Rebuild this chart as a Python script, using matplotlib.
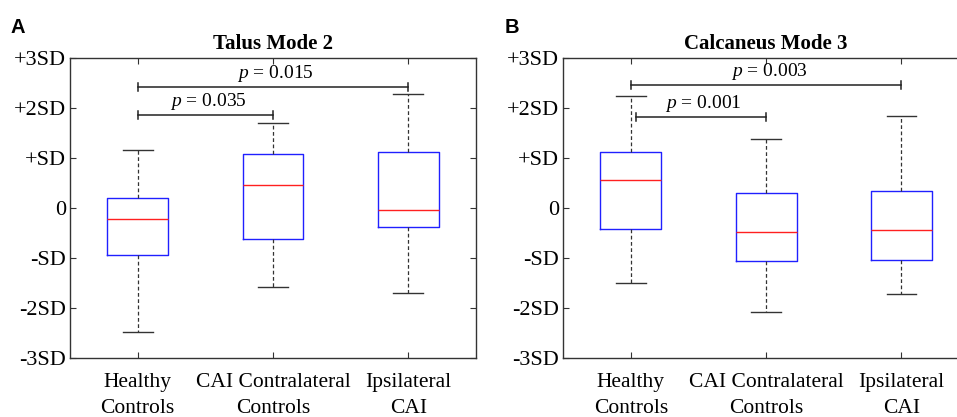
import numpy as np
import matplotlib
matplotlib.use("Agg")
import matplotlib.pyplot as plt

plt.rcParams['font.family'] = 'serif'
plt.rcParams['font.serif'] = ['Liberation Serif', 'DejaVu Serif']
plt.rcParams['mathtext.fontset'] = 'custom'
plt.rcParams['mathtext.it'] = 'Liberation Serif:italic'
plt.rcParams['mathtext.rm'] = 'Liberation Serif'

groups = ['Healthy\nControls', 'CAI Contralateral\nControls', 'Ipsilateral\nCAI']
ytick_vals = [-3, -2, -1, 0, 1, 2, 3]
ytick_labels = ['-3SD', '-2SD', '-SD', '0', '+SD', '+2SD', '+3SD']

# panel A: Talus Mode 2
talus_whislo = [-2.49, -1.59, -1.71]
talus_q1 = [-0.94, -0.63, -0.39]
talus_med = [-0.23, 0.45, -0.04]
talus_q3 = [0.20, 1.08, 1.12]
talus_whishi = [1.15, 1.70, 2.27]
talus_pairs = [(1, 2), (1, 3)]
talus_pvals = ['0.035', '0.015']
talus_bar_y = [1.85, 2.42]

# panel B: Calcaneus Mode 3
calc_whislo = [-1.50, -2.09, -1.73]
calc_q1 = [-0.42, -1.07, -1.05]
calc_med = [0.55, -0.49, -0.45]
calc_q3 = [1.11, 0.30, 0.33]
calc_whishi = [2.24, 1.38, 1.83]
calc_pairs = [(1.035, 2), (1, 3)]
calc_pvals = ['0.001', '0.003']
calc_bar_y = [1.82, 2.45]


def draw_panel(ax, title, whislo, q1, med, q3, whishi, pairs, pvals, bar_y):
    stats = []
    for i in range(len(med)):
        stats.append(dict(whislo=whislo[i], q1=q1[i], med=med[i],
                          q3=q3[i], whishi=whishi[i], fliers=[]))
    ax.bxp(stats, positions=[1, 2, 3], widths=0.45, showfliers=False,
           boxprops=dict(color='#2020ff', linewidth=1.0),
           medianprops=dict(color='#ff2020', linewidth=1.0),
           whiskerprops=dict(color='#333333', linewidth=0.9,
                             linestyle=(0, (3, 2))),
           capprops=dict(color='#333333', linewidth=1.0),
           capwidths=0.22)
    for (x0, x1), p, y in zip(pairs, pvals, bar_y):
        ax.plot([x0, x1], [y, y], color='#222222', lw=1.1)
        ax.plot([x0, x0], [y - 0.08, y + 0.08], color='#222222', lw=1.1)
        ax.plot([x1, x1], [y - 0.08, y + 0.08], color='#222222', lw=1.1)
        ax.text((x0 + x1) / 2 + 0.02, y + 0.06, '$p$ = ' + p,
                ha='center', va='bottom', fontsize=14)
    ax.set_xlim(0.5, 3.5)
    ax.set_ylim(-3, 3)
    ax.set_yticks(ytick_vals)
    ax.set_yticklabels(ytick_labels)
    ax.set_xticks([1, 2, 3])
    ax.set_xticklabels(groups, linespacing=1.5)
    ax.tick_params(direction='in', top=True, right=True, length=4,
                   labelsize=16, color='#333333')
    ax.tick_params(axis='x', pad=11, labelsize=15.5)
    ax.tick_params(axis='y', pad=3)
    for s in ax.spines.values():
        s.set_color('#333333')
        s.set_linewidth(1.0)
    ax.set_title(title, fontsize=15, fontweight='bold', pad=6)


fig = plt.figure(figsize=(9.57, 4.17), dpi=100)
ax_a = fig.add_axes([0.0731, 0.1422, 0.4243, 0.7194])
ax_b = fig.add_axes([0.5886, 0.1422, 0.4240, 0.7194])

draw_panel(ax_a, 'Talus Mode 2', talus_whislo, talus_q1, talus_med,
           talus_q3, talus_whishi, talus_pairs, talus_pvals, talus_bar_y)
draw_panel(ax_b, 'Calcaneus Mode 3', calc_whislo, calc_q1, calc_med,
           calc_q3, calc_whishi, calc_pairs, calc_pvals, calc_bar_y)

fig.text(0.011, 0.933, 'A', fontsize=14.5, fontweight='bold',
         family='Liberation Sans', va='center')
fig.text(0.527, 0.933, 'B', fontsize=14.5, fontweight='bold',
         family='Liberation Sans', va='center')

fig.savefig('out.png', dpi=100)
